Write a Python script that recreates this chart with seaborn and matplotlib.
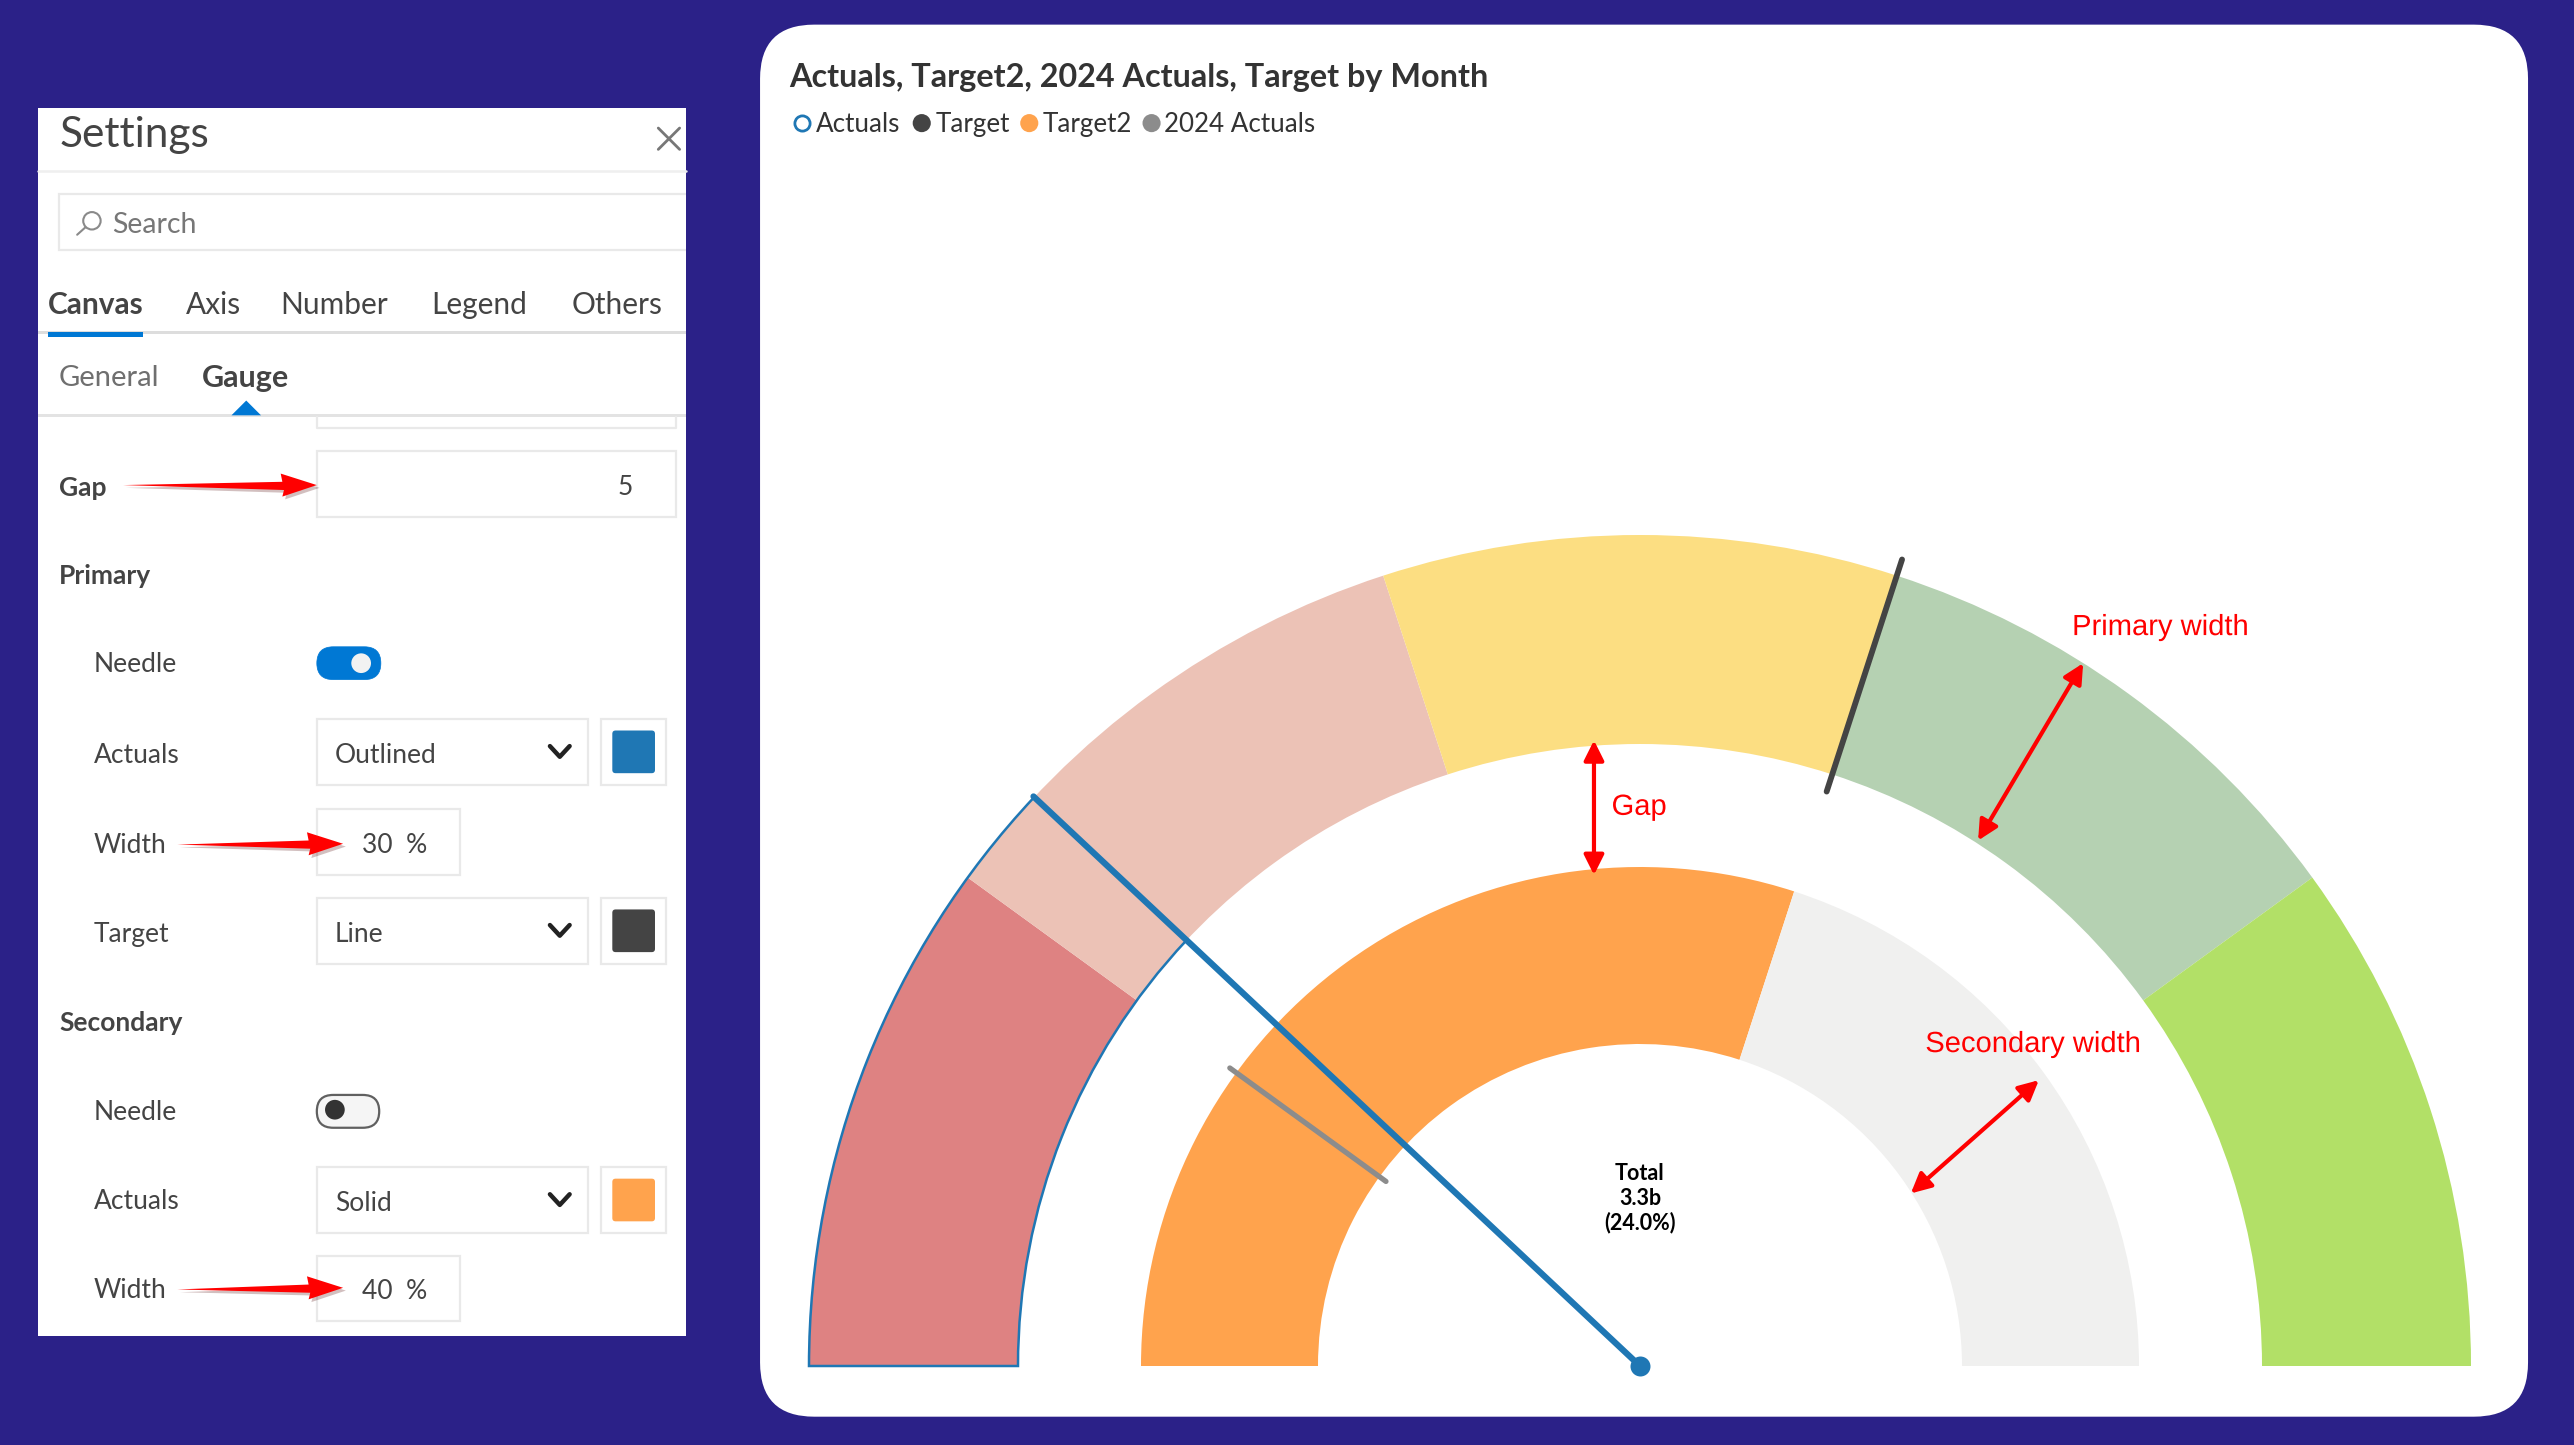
import numpy as np
import pandas as pd
import matplotlib
matplotlib.use("Agg")
import matplotlib.pyplot as plt
import matplotlib.patheffects as pe
from matplotlib.patches import Wedge, FancyBboxPatch, Polygon, Rectangle, Circle
import seaborn as sns

sns.set_theme(style="white")
plt.rcParams["font.family"] = ["Lato", "DejaVu Sans"]

# gauge values, in percent of the scale
band_stops = [0, 20, 40, 60, 80, 100]
band_colors = ["#DE8282", "#ECC2B6", "#FCDE82", "#B5D1B2", "#B2E067"]
actual_pct = 24.0
target_pct = 60.0
target2_pct = 60.0
last_year_pct = 20.0
total_lines = ["Total", "3.3b", "(24.0%)"]

title = "Actuals, Target2, 2024 Actuals, Target by Month"
legend_names = ["Actuals", "Target", "Target2", "2024 Actuals"]
legend_colors = ["#1F77B4", "#444444", "#FFA34D", "#8C8C8C"]

tabs = ["Canvas", "Axis", "Number", "Legend", "Others"]
tab_x = [29, 113, 171, 263, 348]
subtabs = ["General", "Gauge"]
subtab_x = [36, 123]

BG = "#2B2188"
BLUE = "#1F77B4"
UI_BLUE = "#0078D4"
BORDER = "#E9E9E9"
TXT = "#444444"
S = 2574 / 1568


def screen_axes(z):
    # axes in screen units of a 1568 wide view
    a = fig.add_axes([0, 0, 1, 1], facecolor="none", zorder=z)
    a.set_xlim(0, 1568)
    a.set_ylim(1445 / S, 0)
    a.axis("off")
    return a


fig = plt.figure(figsize=(25.74, 14.45), dpi=100, facecolor=BG)
ui = screen_axes(1)
top = screen_axes(3)


def box(x0, y0, x1, y1, fc="white", ec=BORDER, lw=1.6, r=0.0, z=2):
    style = f"round,pad=0,rounding_size={r}" if r else "square,pad=0"
    ui.add_patch(FancyBboxPatch((x0, y0), x1 - x0, y1 - y0, boxstyle=style,
                                fc=fc, ec=ec, lw=lw, zorder=z))


def label(x, y, s, size=19, color=TXT, weight="normal", ha="left", target=None):
    return (target or ui).text(x, y + 1, s, fontsize=size, color=color, fontweight=weight,
                               ha=ha, va="center", zorder=6)


def red_arrow(x0, y0, x1, y1):
    pts = [(x0, y0), (x1 - 21, y1 - 2), (x1 - 22, y1 - 7), (x1, y1),
           (x1 - 21, y1 + 7), (x1 - 20, y1 + 3)]
    top.add_patch(Polygon(pts, closed=True, fc="#FF0000", ec="none", zorder=7,
                          path_effects=[pe.SimplePatchShadow((2, -2), alpha=0.25), pe.Normal()]))


def chevron(x, y):
    ui.plot([x - 6, x, x + 6], [y - 3.5, y + 3, y - 3.5], color="#222222", lw=3.2, zorder=6)


def swatch(y0, color):
    box(366, y0, 406, y0 + 40)
    box(373, y0 + 7, 399, y0 + 33, fc=color, ec="none", lw=0, r=2, z=3)


# white card behind the chart
box(463, 15, 1540, 863, ec="none", lw=0, r=33)

# settings panel
ui.add_patch(Rectangle((23, 66), 395, 748, fc="white", ec="none", zorder=1))
label(36, 81, "Settings", size=30.5)
ui.plot([401, 414], [78, 91], color="#777777", lw=2, zorder=6)
ui.plot([401, 414], [91, 78], color="#777777", lw=2, zorder=6)
ui.plot([23, 418], [104, 104], color="#EFEFEF", lw=1.8, zorder=3)

box(36, 118, 430, 152)
ui.add_patch(Rectangle((418, 110), 20, 50, fc=BG, ec="none", zorder=3))
ui.add_patch(Circle((56, 134.5), 5.3, fc="none", ec="#8A8A8A", lw=1.5, zorder=6))
ui.plot([47, 52], [143, 138.5], color="#8A8A8A", lw=1.5, zorder=6)
label(68, 136, "Search", color="#777777", size=20.5)

for name, x in zip(tabs, tab_x):
    label(x, 185, name, size=21.5, weight="bold" if name == "Canvas" else "normal")
ui.add_patch(Rectangle((23, 201.5), 395, 2, fc="#DDDDDD", ec="none", zorder=3))
ui.add_patch(Rectangle((29, 202), 58, 3.5, fc=UI_BLUE, ec="none", zorder=4))
for name, x in zip(subtabs, subtab_x):
    label(x, 229.5, name, size=22 if name == "Gauge" else 21,
          weight="bold" if name == "Gauge" else "normal",
          color=TXT if name == "Gauge" else "#6F6F6F")
ui.add_patch(Rectangle((23, 252), 395, 2, fc="#E3E3E3", ec="none", zorder=3))
ui.add_patch(Polygon([(141, 253), (150, 244), (159, 253)], fc=UI_BLUE, ec="none", zorder=4))

# partly scrolled input
ui.plot([193, 193, 412, 412], [254, 261, 261, 254], color=BORDER, lw=1.6, zorder=3)
box(193, 275, 412, 315)
label(36, 296, "Gap", weight="bold")
label(381, 296, "5", ha="center")
label(36, 350, "Primary", weight="bold")
label(36, 622, "Secondary", weight="bold")

rows = [(57, 404, "Needle"), (57, 459, "Actuals"), (57, 514, "Width"), (57, 568, "Target"),
        (57, 677, "Needle"), (57, 731, "Actuals"), (57, 785, "Width")]
for x, y, name in rows:
    label(x, y, name)

box(193, 394, 232, 414, fc=UI_BLUE, ec=UI_BLUE, lw=0.5, r=10, z=3)
ui.add_patch(Circle((220, 404), 6, fc="#F2F2F2", ec="none", zorder=5))
box(193, 667, 231, 687, fc="#F5F5F5", ec="#606060", lw=1.6, r=10, z=3)
ui.add_patch(Circle((204, 676), 6, fc="#333333", ec="none", zorder=5))

for y0, text, color in [(438, "Outlined", BLUE), (547, "Line", "#444444"), (711, "Solid", "#FFA34D")]:
    box(193, y0, 358, y0 + 40)
    label(204, y0 + 21, text)
    chevron(341, y0 + 20)
    swatch(y0, color)

for y0, text in [(493, "30  %"), (765, "40  %")]:
    box(193, y0, 280, y0 + 40)
    label(260, y0 + 21, text, ha="right")

red_arrow(75, 295.5, 193, 295.5)
red_arrow(108, 514.5, 209, 514)
red_arrow(108, 785.5, 209, 784.5)

# chart title and legend
label(481, 46.5, title, size=23.3, color="#333333", weight="bold")
legend_x = [488.5, 561.5, 627, 701.5]
legend_df = pd.DataFrame({"x": legend_x, "y": [75] * 4, "name": legend_names})
sns.scatterplot(data=legend_df.iloc[1:], x="x", y="y", hue="name",
                palette=dict(zip(legend_names, legend_colors)), s=170, linewidth=0,
                legend=False, ax=ui, zorder=6)
sns.scatterplot(data=legend_df.iloc[:1], x="x", y="y", s=120, facecolor="white",
                edgecolor=BLUE, linewidth=2.0, legend=False, ax=ui, zorder=6)
for name, x in zip(legend_names, [497, 570, 635, 709]):
    label(x, 75, name, size=18.7, color="#333333")
ui.set_xlabel("")
ui.set_ylabel("")
ui.set_xlim(0, 1568)
ui.set_ylim(1445 / S, 0)

# ---- gauge layer, one unit is one output pixel, hub at the origin
ax = fig.add_axes([0, 0, 1, 1], facecolor="none", zorder=2)
ax.axis("off")

R_OUT, R_IN = 831, 622
R2_OUT, R2_IN = 499, 322


def angle(pct):
    return 180 - pct * 1.8


def arc(lo, hi, r_out, r_in, **kw):
    ax.add_patch(Wedge((0, 0), r_out, angle(hi), angle(lo), width=r_out - r_in, **kw))


def radial(pct, r0, r1):
    a = np.radians(angle(pct))
    return pd.DataFrame({"x": [r0 * np.cos(a), r1 * np.cos(a)], "y": [r0 * np.sin(a), r1 * np.sin(a)]})


for lo, hi, color in zip(band_stops[:-1], band_stops[1:], band_colors):
    arc(lo, hi, R_OUT, R_IN, fc=color, ec="none", zorder=2)
arc(0, actual_pct, R_OUT, R_IN, fc="none", ec=BLUE, lw=1.8, zorder=3)

arc(0, target2_pct, R2_OUT, R2_IN, fc=legend_colors[2], ec="none", zorder=2)
arc(target2_pct, 100, R2_OUT, R2_IN, fc="#F0F0EF", ec="none", zorder=2)

sns.lineplot(data=radial(target_pct, 604, 848), x="x", y="y", sort=False, errorbar=None,
             color=legend_colors[1], lw=4.2, ax=ax, zorder=4)
sns.lineplot(data=radial(last_year_pct, 314, 507), x="x", y="y", sort=False, errorbar=None,
             color=legend_colors[3], lw=3.8, ax=ax, zorder=4)
sns.lineplot(data=radial(actual_pct, 0, 832), x="x", y="y", sort=False, errorbar=None,
             color=BLUE, lw=4.5, ax=ax, zorder=5)
sns.scatterplot(x=[0], y=[0], color=BLUE, s=207, linewidth=0, ax=ax, zorder=6, legend=False)
ax.set_xlabel("")
ax.set_ylabel("")
ax.set_xlim(-1640, 934)
ax.set_ylim(-79, 1366)

for y, s in zip([715, 730, 745], total_lines):
    label(999, y - 1, s, size=15.5, color="black", weight="bold", ha="center", target=top)

# red callouts over the gauge
callouts = [((971, 533), (971, 451)), ((1205, 512), (1269, 404)), ((1164, 727), (1242, 658))]
for a, b in callouts:
    top.annotate("", xy=b, xytext=a, zorder=8, annotation_clip=False,
                 arrowprops=dict(arrowstyle="<|-|>,head_length=1.0,head_width=0.5", color="#FF0000",
                                 lw=3.0, shrinkA=0, shrinkB=0))
for x, y, s in [(1316, 382, "Primary width"), (1238.5, 636, "Secondary width"), (998.5, 491.5, "Gap")]:
    top.text(x, y, s, fontsize=21, color="#FF0000", family="Liberation Sans", ha="center", va="center",
             zorder=9, path_effects=[pe.SimpleLineShadow((1.5, -1.5), alpha=0.25), pe.Normal()])

fig.savefig("out.png", dpi=100, facecolor=BG)
